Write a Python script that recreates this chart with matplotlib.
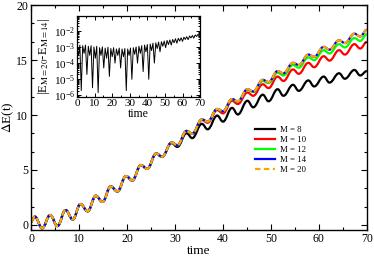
import matplotlib
matplotlib.use("Agg")
import matplotlib.pyplot as plt
from matplotlib.path import Path
from matplotlib.patches import PathPatch
from matplotlib.lines import Line2D
from matplotlib.ticker import MultipleLocator, LogLocator, NullFormatter

plt.rcParams['font.family'] = ['Liberation Serif', 'DejaVu Serif']
plt.rcParams['mathtext.fontset'] = 'stix'

# times of the turning points (peak, trough, ...) of the main curves
t_ext = [0.0,
         0.8, 2.3, 4.0, 5.5, 7.2, 8.7, 10.3, 11.8, 13.5, 14.9,
         16.6, 18.0, 19.8, 21.1, 22.9, 24.2, 26.1, 27.3, 29.3, 30.5,
         32.4, 33.6, 35.6, 36.8, 38.8, 40.0, 41.9, 43.1, 45.1, 46.3,
         48.3, 49.5, 51.4, 52.6, 54.6, 55.8, 57.8, 59.0, 61.0, 62.2,
         64.2, 65.4, 67.4, 68.6,
         70.0]

# values of dE(t) at those points
e_m20 = [0.3,
         0.75, -0.3, 0.9, -0.1, 1.35, 0.5, 1.9, 1.25, 2.65, 2.1,
         3.5, 3.05, 4.45, 4.05, 5.45, 5.1, 6.5, 6.2, 7.5, 7.25,
         8.55, 8.3, 9.6, 9.4, 10.55, 10.35, 11.45, 11.25, 12.35, 12.15,
         13.2, 13.0, 14.0, 13.8, 14.75, 14.55, 15.5, 15.3, 16.2, 15.95,
         16.8, 16.55, 17.4, 17.15,
         17.75]
e_m14 = [0.3,
         0.75, -0.3, 0.9, -0.1, 1.35, 0.5, 1.9, 1.25, 2.65, 2.1,
         3.5, 3.05, 4.45, 4.05, 5.45, 5.1, 6.5, 6.2, 7.5, 7.25,
         8.55, 8.3, 9.6, 9.4, 10.55, 10.35, 11.45, 11.25, 12.35, 12.15,
         13.2, 13.0, 14.0, 13.8, 14.75, 14.55, 15.5, 15.3, 16.2, 15.95,
         16.8, 16.55, 17.4, 17.15,
         17.75]
e_m12 = [0.3,
         0.75, -0.3, 0.9, -0.1, 1.35, 0.5, 1.9, 1.25, 2.65, 2.1,
         3.5, 3.05, 4.45, 4.05, 5.45, 5.1, 6.5, 6.2, 7.5, 7.25,
         8.55, 8.3, 9.6, 9.4, 10.55, 10.35, 11.45, 11.25, 12.3, 12.1,
         13.1, 12.9, 13.85, 13.6, 14.55, 14.3, 15.25, 15.0, 15.9, 15.6,
         16.45, 16.15, 17.0, 16.75,
         17.35]
e_m10 = [0.3,
         0.75, -0.3, 0.9, -0.1, 1.35, 0.5, 1.9, 1.25, 2.65, 2.1,
         3.5, 3.05, 4.45, 4.05, 5.45, 5.1, 6.5, 6.2, 7.5, 7.25,
         8.55, 8.3, 9.55, 9.3, 10.45, 10.15, 11.3, 11.0, 12.05, 11.75,
         12.8, 12.45, 13.5, 13.1, 14.15, 13.75, 14.75, 14.35, 15.35, 14.95,
         15.9, 15.5, 16.45, 16.05,
         16.65]
e_m8 = [0.3,
        0.75, -0.3, 0.9, -0.1, 1.35, 0.5, 1.9, 1.25, 2.65, 2.1,
        3.5, 3.05, 4.45, 4.05, 5.45, 5.1, 6.5, 6.2, 7.45, 7.1,
        8.35, 7.9, 9.2, 8.7, 9.95, 9.4, 10.65, 10.05, 11.3, 10.7,
        11.85, 11.25, 12.35, 11.75, 12.75, 12.2, 13.15, 12.6, 13.5, 12.95,
        13.8, 13.3, 14.1, 13.6,
        14.0]

labels = ['M = 8', 'M = 10', 'M = 12', 'M = 14', 'M = 20']
colors = ['black', 'red', '#00ff00', 'blue', 'orange']

# inset: |E_M=20 - E_M=14|, alternating upper envelope / dip
t_inset = [0.0, 0.8, 1.6, 2.4, 3.2, 4.0, 4.8, 5.6, 6.4, 7.2, 8.0, 8.8, 9.6,
           10.4, 11.2, 12.0, 12.8, 13.6, 14.4, 15.2, 16.0, 16.8, 17.6, 18.4,
           19.2, 20.0, 20.8, 21.6, 22.4, 23.2, 24.0, 24.8, 25.6, 26.4, 27.2,
           28.0, 28.8, 29.6, 30.4, 31.2, 32.0, 32.8, 33.6, 34.4, 35.2, 36.0,
           36.8, 37.6, 38.4, 39.2, 40.0, 40.8, 41.6, 42.4, 43.2, 44.0, 44.8,
           45.6, 46.4, 47.2, 48.0, 48.8, 49.6, 50.4, 51.2, 52.0, 52.8, 53.6,
           54.4, 55.2, 56.0, 56.8, 57.6, 58.4, 59.2, 60.0, 60.8, 61.6, 62.4,
           63.2, 64.0, 64.8, 65.6, 66.4, 67.2, 68.0, 68.8, 69.6, 70.4]
err_inset = [8e-4, 3e-4, 1.3e-3, 2e-6, 1.2e-3, 4e-4, 1.3e-3, 2e-5, 1.1e-3,
             3e-4, 1.2e-3, 3e-6, 1.0e-3, 2e-4, 1.1e-3, 1.5e-6, 9e-4, 3e-4,
             1.0e-3, 5e-5, 8.5e-4, 2e-4, 9.5e-4, 1.5e-5, 8e-4, 2.5e-4, 9e-4,
             1e-4, 7.5e-4, 3e-4, 8.5e-4, 5e-5, 7.5e-4, 2.5e-4, 8e-4, 2e-6,
             7.5e-4, 3e-4, 8.5e-4, 1e-5, 9e-4, 3.5e-4, 1.0e-3, 1e-4, 1.1e-3,
             4e-4, 1.2e-3, 3e-5, 1.3e-3, 5e-4, 1.4e-3, 1e-5, 1.5e-3, 6e-4,
             1.7e-3, 1e-4, 1.8e-3, 8e-4, 2.0e-3, 5e-4, 2.1e-3, 1.1e-3, 2.3e-3,
             9e-4, 2.5e-3, 1.4e-3, 2.7e-3, 1.3e-3, 2.9e-3, 1.8e-3, 3.2e-3,
             1.7e-3, 3.4e-3, 2.3e-3, 3.7e-3, 2.2e-3, 4.0e-3, 2.9e-3, 4.3e-3,
             2.8e-3, 4.7e-3, 3.6e-3, 5.1e-3, 3.5e-3, 5.5e-3, 4.4e-3, 6.0e-3,
             4.3e-3, 6.5e-3]


def wave_path(ts, es, c=0.4):
    # smooth curve through the turning points (flat tangent at each one)
    verts = [(ts[0], es[0])]
    codes = [Path.MOVETO]
    for i in range(1, len(ts)):
        dt = ts[i] - ts[i - 1]
        verts += [(ts[i - 1] + c * dt, es[i - 1]), (ts[i] - c * dt, es[i]), (ts[i], es[i])]
        codes += [Path.CURVE4] * 3
    return Path(verts, codes)


fig = plt.figure(figsize=(3.74, 2.56), dpi=100)
ax = fig.add_axes([0.083, 0.102, 0.898, 0.878])

series = [e_m8, e_m10, e_m12, e_m14, e_m20]
handles = []
for es, col, lab in zip(series, colors, labels):
    ls = (0, (3, 1)) if lab == 'M = 20' else '-'
    ax.add_patch(PathPatch(wave_path(t_ext, es), fill=False, edgecolor=col,
                           lw=1.6, linestyle=ls, capstyle='butt'))
    hls = (0, (2.5, 1.5)) if lab == 'M = 20' else '-'
    handles.append(Line2D([], [], color=col, lw=1.6, linestyle=hls, label=lab))

ax.set_xlim(0, 70)
ax.set_ylim(-0.45, 20)
ax.xaxis.set_major_locator(MultipleLocator(10))
ax.xaxis.set_minor_locator(MultipleLocator(5))
ax.yaxis.set_major_locator(MultipleLocator(5))
ax.yaxis.set_minor_locator(MultipleLocator(5 / 3))
ax.tick_params(which='both', direction='in', top=True, right=True, labelsize=8.5,
               width=0.8, pad=2)
ax.tick_params(which='major', length=4)
ax.tick_params(which='minor', length=2)
for s in ax.spines.values():
    s.set_linewidth(1.0)
ax.set_xlabel('time', fontsize=9.5, labelpad=0)
ax.set_ylabel(r'$\Delta$E(t)', fontsize=9.5)
ax.yaxis.set_label_coords(-0.045, 0.5)

ax.legend(handles=handles, loc='upper left', bbox_to_anchor=(0.655, 0.48),
          frameon=False, fontsize=6.3, handlelength=2.2, handletextpad=0.6,
          labelspacing=0.2, borderpad=0)

# inset
axi = fig.add_axes([0.206, 0.621, 0.329, 0.316])
axi.plot(t_inset, err_inset, color='black', lw=0.7)
axi.set_yscale('log')
axi.set_xlim(0, 70)
axi.set_ylim(8e-7, 8e-2)
axi.xaxis.set_major_locator(MultipleLocator(10))
axi.xaxis.set_minor_locator(MultipleLocator(5))
axi.yaxis.set_major_locator(LogLocator(base=10, numticks=10))
axi.yaxis.set_minor_locator(LogLocator(base=10, subs=range(2, 10), numticks=20))
axi.yaxis.set_minor_formatter(NullFormatter())
axi.set_yticks([1e-6, 1e-5, 1e-4, 1e-3, 1e-2])
axi.tick_params(which='both', direction='in', top=True, right=True, labelsize=8,
                width=0.7, pad=1.5)
axi.tick_params(which='major', length=3)
axi.tick_params(which='minor', length=1.5)
for s in axi.spines.values():
    s.set_linewidth(0.9)
axi.set_xlabel('time', fontsize=8.5, labelpad=0)
axi.set_ylabel(r'|E$_{\mathrm{M=20}}$-E$_{\mathrm{M=14}}$|', fontsize=9, labelpad=1)

fig.savefig('out.png', dpi=100)
